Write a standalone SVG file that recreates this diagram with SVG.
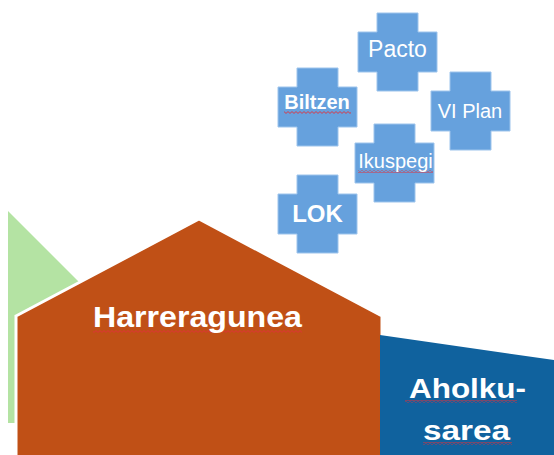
<svg xmlns="http://www.w3.org/2000/svg" width="554" height="455" viewBox="0 0 554 455">
  <style>
    .cross { fill: #66A1DD; stroke: #9DC4EC; stroke-width: 1; }
    .lbl { fill: #ffffff; font-family: "Liberation Sans", Arial, sans-serif; text-anchor: middle; }
    .b { font-weight: bold; }
    .sq { fill: url(#squiggle); }
  </style>
  <defs>
    <path id="plus" d="M19,0 H60 V19 H79 V59 H60 V78 H19 V59 H0 V19 H19 Z"/>
    <pattern id="squiggle" width="4" height="3" patternUnits="userSpaceOnUse">
      <path d="M0,0.6 L2,2.4 L4,0.6" fill="none" stroke="#E0303A" stroke-width="0.9"/>
    </pattern>
  </defs>

  <!-- background blocks -->
  <g id="green-wing">
    <polygon points="8,211 130,333 130,423 8,423" fill="#B4E3A3"/>
  </g>
  <g id="harreragunea">
    <polygon points="16,316 199,219 382,316 382,470 16,470" fill="#C05016" stroke="#ffffff" stroke-width="3" stroke-linejoin="miter"/>
    <rect class="sq" x="93" y="330" width="209" height="3"/>
    <text class="lbl b" x="197.5" y="327" font-size="29" textLength="209" lengthAdjust="spacingAndGlyphs">Harreragunea</text>
  </g>
  <g id="aholkusarea">
    <polygon points="380,335 554,360 554,455 380,455" fill="#10629E"/>
    <rect class="sq" x="405" y="400" width="112" height="3"/>
    <rect class="sq" x="423" y="442" width="89" height="3"/>
    <text class="lbl b" x="467.5" y="398" font-size="28" textLength="117" lengthAdjust="spacingAndGlyphs">Aholku-</text>
    <text class="lbl b" x="466.5" y="440" font-size="28" textLength="87" lengthAdjust="spacingAndGlyphs">sarea</text>
  </g>

  <!-- plus-shaped tags -->
  <g id="pacto">
    <use href="#plus" class="cross" x="358" y="13"/>
    <text class="lbl" x="397.5" y="57" font-size="23">Pacto</text>
  </g>
  <g id="biltzen">
    <use href="#plus" class="cross" x="278" y="68"/>
    <rect class="sq" x="284" y="111" width="67" height="3"/>
    <text class="lbl b" x="317" y="109" font-size="20">Biltzen</text>
  </g>
  <g id="viplan">
    <use href="#plus" class="cross" x="431" y="72"/>
    <text class="lbl" x="470" y="118" font-size="20">VI Plan</text>
  </g>
  <g id="ikuspegi">
    <use href="#plus" class="cross" x="355" y="124"/>
    <rect class="sq" x="358" y="170" width="75" height="3"/>
    <text class="lbl" x="395.5" y="168" font-size="20">Ikuspegi</text>
  </g>
  <g id="lok">
    <use href="#plus" class="cross" x="278" y="175"/>
    <text class="lbl b" x="317.5" y="222" font-size="24">LOK</text>
  </g>

  <g id="connectors"></g>
</svg>
